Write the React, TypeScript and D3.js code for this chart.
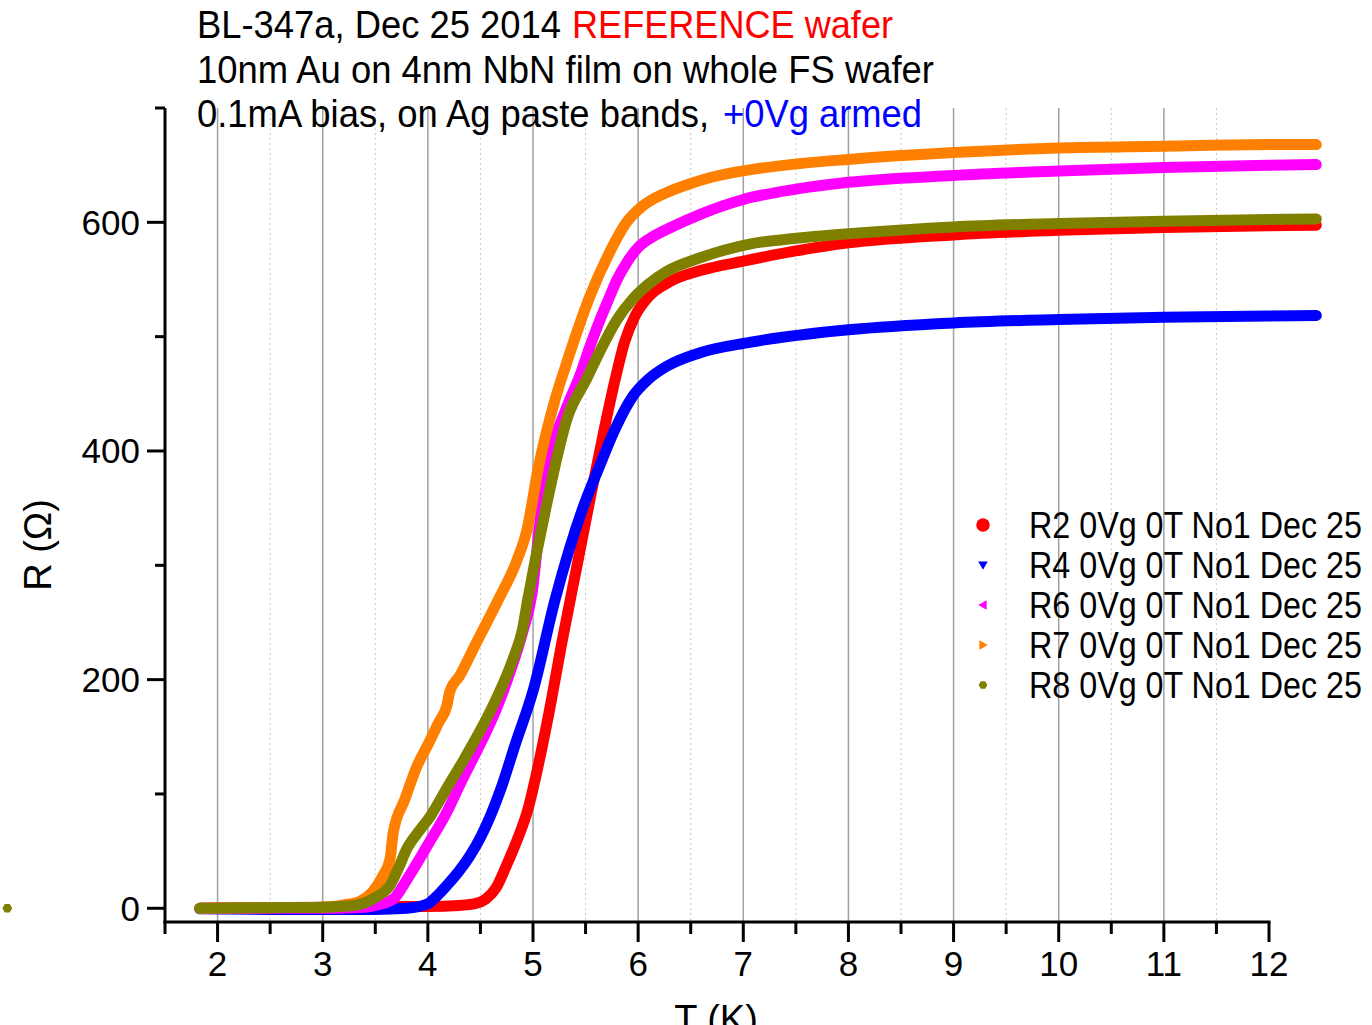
import React from "react";
import * as d3 from "d3";

const r2: [number, number][] = [[1.83,0],[2.5,0.5],[3.0,1],[3.5,1.5],[4.0,1.5],[4.3,2.5],[4.45,4],[4.55,8],[4.65,18],[4.75,38],[4.85,60],[4.95,86],[5.05,125],[5.15,170],[5.28,235],[5.43,305],[5.56,366],[5.68,420],[5.78,462],[5.87,495],[5.97,518],[6.1,535],[6.3,548],[6.6,558],[7.0,566],[7.5,575],[8,582],[9,589],[10,593],[11,595.5],[12,597],[12.45,597.5]];
const r4: [number, number][] = [[1.83,-0.5],[2.5,-1],[3.0,-1],[3.5,-1],[3.8,0],[4.0,4],[4.1,12],[4.2,22],[4.3,33],[4.4,46],[4.5,62],[4.6,82],[4.7,106],[4.83,143],[5.0,190],[5.21,270],[5.47,349],[5.63,386],[5.78,419],[5.95,448],[6.1,463],[6.27,474],[6.59,486],[7.06,495],[8,506],[9,512],[10,515],[11,517],[12,518],[12.45,518.5]];
const r6: [number, number][] = [[1.83,0],[2.5,0],[3.0,0],[3.3,0.5],[3.47,2],[3.67,8],[3.8,25],[3.92,43],[3.99,54],[4.18,84],[4.33,113],[4.49,142],[4.65,174],[4.78,206],[4.9,241],[4.99,275],[5.08,349],[5.18,400],[5.32,438],[5.45,467],[5.54,491],[5.63,513],[5.72,533],[5.8,550],[5.9,566],[6.0,578],[6.15,588],[6.3,595],[6.59,607],[7.0,620],[7.5,629],[8,635],[9,641],[10,645],[11,648],[12,650],[12.45,650.5]];
const r7: [number, number][] = [[1.83,0],[2.5,0.5],[3.0,1],[3.2,3],[3.35,6],[3.47,14],[3.57,28],[3.64,43],[3.67,66],[3.78,95],[3.9,125],[4.0,143],[4.1,162],[4.18,177],[4.21,190],[4.3,203],[4.46,232],[4.66,268],[4.85,305],[4.94,330],[5.05,385],[5.21,445],[5.32,477],[5.54,535],[5.73,574],[5.89,600],[6.04,614],[6.27,626],[6.5,634],[6.68,639],[7,645],[7.5,651],[8,655],[9,661],[10,665],[11,666.5],[12,668],[12.45,668]];
const r8: [number, number][] = [[1.83,0],[2.5,0.5],[3.0,1],[3.3,2.5],[3.51,10],[3.64,20],[3.72,35],[3.8,52],[3.92,68],[4.02,80],[4.18,105],[4.33,128],[4.49,154],[4.65,183],[4.81,218],[4.9,244],[4.95,270],[5.12,349],[5.33,430],[5.51,463],[5.63,486],[5.8,515],[5.95,533],[6.1,546],[6.27,557],[6.59,569],[7.06,581],[7.5,586],[8,590],[9,596],[10,599],[11,601],[12,602.5],[12.45,603]];
const r8Stray: [number, number][] = [[0, 0]];

const seriesNames = ["R2 0Vg 0T No1 Dec 25", "R4 0Vg 0T No1 Dec 25", "R6 0Vg 0T No1 Dec 25", "R7 0Vg 0T No1 Dec 25", "R8 0Vg 0T No1 Dec 25"];
const seriesColors = ["#FF0000", "#0000FF", "#FF00FF", "#FF8000", "#808000"];
const seriesData = [r2, r4, r6, r7, r8];

const xMajorTicks = [2, 3, 4, 5, 6, 7, 8, 9, 10, 11, 12];
const xMinorTicks = [1.5, 2.5, 3.5, 4.5, 5.5, 6.5, 7.5, 8.5, 9.5, 10.5, 11.5];
const yMajorTicks = [0, 200, 400, 600];
const yMinorTicks = [100, 300, 500, 700];

const FONT = "'Liberation Sans', Arial, sans-serif";

export default function App() {
  const x = d3.scaleLinear().domain([1.5, 12]).range([165, 1269]);
  const y = d3.scaleLinear().domain([-12, 700]).range([922, 108]);
  const line = d3.line<[number, number]>().x(d => x(d[0])).y(d => y(d[1])).curve(d3.curveMonotoneX);
  const top = y(700), bottom = y(-12), left = x(1.5), right = x(12);

  const sym = (i: number, cx: number, cy: number, s: number) => {
    const c = seriesColors[i];
    if (i === 0) return <circle cx={cx} cy={cy} r={s * 0.75} fill={c} />;
    if (i === 1) return <path d={`M${cx - s * 0.6},${cy - s * 0.45}L${cx + s * 0.6},${cy - s * 0.45}L${cx},${cy + s * 0.6}Z`} fill={c} />;
    if (i === 2) return <path d={`M${cx - s * 0.6},${cy}L${cx + s * 0.45},${cy - s * 0.6}L${cx + s * 0.45},${cy + s * 0.6}Z`} fill={c} />;
    if (i === 3) return <path d={`M${cx + s * 0.6},${cy}L${cx - s * 0.45},${cy - s * 0.6}L${cx - s * 0.45},${cy + s * 0.6}Z`} fill={c} />;
    const pts = d3.range(6).map(k => { const a = Math.PI / 3 * k; return [cx + s * 0.55 * Math.cos(a), cy + s * 0.55 * Math.sin(a)]; });
    return <path d={"M" + pts.map(p => p.join(",")).join("L") + "Z"} fill={c} />;
  };

  return (
    <svg width={1372} height={1025} style={{ position: "absolute", left: 0, top: 0, background: "#fff" }} fontFamily={FONT}>
      {/* grid */}
      {xMajorTicks.filter(t => t < 12).map(t => (
        <line key={"g" + t} x1={x(t)} x2={x(t)} y1={top} y2={bottom} stroke="#A0A0A0" strokeWidth={1.5} />
      ))}
      {xMinorTicks.filter(t => t > 1.5).map(t => (
        <line key={"gm" + t} x1={x(t)} x2={x(t)} y1={top} y2={bottom} stroke="#C8C8C8" strokeWidth={1} strokeDasharray="2,3" />
      ))}

      {/* title */}
      <text x={197} y={38} fontSize={39} textLength={364} lengthAdjust="spacingAndGlyphs" fill="#000">BL-347a, Dec 25 2014</text>
      <text x={572} y={38} fontSize={39} textLength={321} lengthAdjust="spacingAndGlyphs" fill="#FF0000">REFERENCE wafer</text>
      <text x={197} y={83} fontSize={39} textLength={737} lengthAdjust="spacingAndGlyphs" fill="#000">10nm Au on 4nm NbN film on whole FS wafer</text>
      <text x={197} y={127} fontSize={39} textLength={512} lengthAdjust="spacingAndGlyphs" fill="#000">0.1mA bias, on Ag paste bands,</text>
      <text x={723} y={127} fontSize={39} textLength={199} lengthAdjust="spacingAndGlyphs" fill="#0000FF">+0Vg armed</text>

      {/* data */}
      {seriesData.map((d, i) => (
        <path key={"s" + i} d={line(d) || ""} fill="none" stroke={seriesColors[i]} strokeWidth={11} strokeLinejoin="round" strokeLinecap="round" />
      ))}
      {r8Stray.map((d, i) => <g key={"st" + i}>{sym(4, x(d[0]), y(d[1]), 9)}</g>)}

      {/* axes */}
      <line x1={left} x2={left} y1={top} y2={bottom + 1.5} stroke="#000" strokeWidth={3} />
      <line x1={left - 1.5} x2={right + 1.5} y1={bottom} y2={bottom} stroke="#000" strokeWidth={3} />
      {xMajorTicks.map(t => (
        <g key={"xt" + t}>
          <line x1={x(t)} x2={x(t)} y1={bottom} y2={bottom + 20} stroke="#000" strokeWidth={3} />
          <text x={x(t)} y={963} fontSize={35} textAnchor="middle" dominantBaseline="central" fill="#000">{t}</text>
        </g>
      ))}
      {xMinorTicks.map(t => (
        <line key={"xm" + t} x1={x(t)} x2={x(t)} y1={bottom} y2={bottom + 12} stroke="#000" strokeWidth={3} />
      ))}
      {yMajorTicks.map(t => (
        <g key={"yt" + t}>
          <line x1={left - 18} x2={left} y1={y(t)} y2={y(t)} stroke="#000" strokeWidth={3} />
          <text x={140} y={y(t)} fontSize={35} textAnchor="end" dominantBaseline="central" fill="#000">{t}</text>
        </g>
      ))}
      {yMinorTicks.map(t => (
        <line key={"ym" + t} x1={left - 10} x2={left} y1={y(t)} y2={y(t)} stroke="#000" strokeWidth={3} />
      ))}

      {/* axis titles */}
      <text transform="translate(51,545) rotate(-90)" fontSize={38} textAnchor="middle" fill="#000">R (Ω)</text>
      <text x={716} y={1032} fontSize={38} textAnchor="middle" fill="#000">T (K)</text>

      {/* legend */}
      {seriesNames.map((n, i) => (
        <g key={"l" + i}>
          {sym(i, 983, 525 + i * 40, i === 0 ? 9 : 8)}
          <text x={1029} y={525 + i * 40} fontSize={36} dominantBaseline="central" textLength={333} lengthAdjust="spacingAndGlyphs" fill="#000">{n}</text>
        </g>
      ))}
    </svg>
  );
}
